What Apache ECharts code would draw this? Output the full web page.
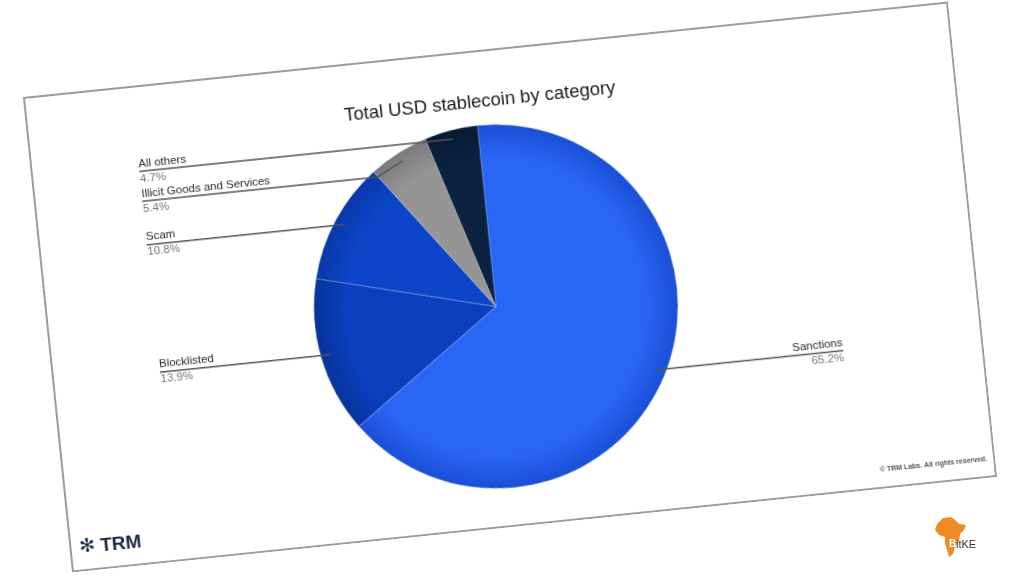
<!DOCTYPE html>
<html>
<head>
<meta charset="utf-8">
<script src="https://cdn.jsdelivr.net/npm/echarts@6/dist/echarts.min.js"></script>
<style>
  html, body { margin: 0; padding: 0; background: #ffffff; width: 1024px; height: 576px; overflow: hidden; }
  #bg { position: absolute; left: 0; top: 0; width: 1024px; height: 576px; }
  #card { position: absolute; left: 44.5px; top: 48px; width: 930px; height: 478px;
          transform: rotate(-5.9deg); transform-origin: 50% 50%; }
</style>
</head>
<body>
<div id="bg"></div>
<div id="card"></div>
<script>
// ---- data ----
const categories = ['Sanctions', 'Blocklisted', 'Scam', 'Illicit Goods and Services', 'All others'];
const shares = [65.2, 13.9, 10.8, 5.4, 4.7];
const chartTitle = 'Total USD stablecoin by category';
const footerText = '© TRM Labs. All rights reserved.';

// ---- styles ----
const baseColors = ['#2a66f4', '#0b3fbd', '#0c45c8', '#959595', '#0b2240'];
const edgeColors = ['#1a4fd6', '#08339c', '#0938a8', '#7a7a7a', '#071a33'];
const CX = 449, CY = 257, R = 182, R_LABEL = 173;
const FONT = 'Liberation Sans, Arial, sans-serif';

function radial(i) {
  return {
    type: 'radial', x: CX, y: CY, r: R, global: true,
    colorStops: [
      { offset: 0, color: baseColors[i] },
      { offset: 0.82, color: baseColors[i] },
      { offset: 1, color: edgeColors[i] }
    ]
  };
}

const pieData = categories.map((c, i) => ({
  name: c, value: shares[i], itemStyle: { color: radial(i) }
}));
const labelData = categories.map((c, i) => ({ name: c, value: shares[i] }));

const card = echarts.init(document.getElementById('card'), null, { renderer: 'canvas' });
const common = {
  type: 'pie',
  left: 98, right: 130, top: 0, bottom: 0,
  center: ['50%', CY],
  startAngle: 90,
  clockwise: true,
  emphasis: { disabled: true },
  silent: true
};
card.setOption({
  backgroundColor: '#ffffff',
  animation: false,
  title: {
    text: chartTitle, left: CX, top: 37, textAlign: 'center',
    textStyle: { fontFamily: FONT, fontSize: 18.5, fontWeight: 'normal', color: '#1a1a1a' }
  },
  graphic: [
    { type: 'rect', z: -10, silent: true, shape: { x: 1, y: 1, width: 928, height: 476 },
      style: { fill: 'rgba(0,0,0,0)', stroke: '#9c9c9c', lineWidth: 2 } },
    { type: 'text', right: 8, top: 456,
      style: { text: footerText, fontFamily: FONT, fontSize: 7, fontWeight: 'bold', fill: '#555' } },
    { type: 'text', left: 10, top: 445,
      style: { text: '✻', fontFamily: 'DejaVu Sans', fontSize: 19, fontWeight: 'bold', fill: '#1b2746' } },
    { type: 'text', left: 31, top: 445,
      style: { text: 'TRM', fontFamily: FONT, fontSize: 19, fontWeight: 'bold', fill: '#1b2746' } }
  ],
  series: [
    Object.assign({}, common, {
      name: 'pie',
      z: 2,
      radius: R,
      data: pieData,
      itemStyle: { borderColor: 'rgba(255,255,255,0.35)', borderWidth: 0.6 },
      label: { show: false },
      labelLine: { show: false }
    }),
    Object.assign({}, common, {
      name: 'labels',
      z: 5,
      radius: R_LABEL,
      data: labelData,
      itemStyle: { color: 'rgba(0,0,0,0)', borderWidth: 0 },
      label: {
        alignTo: 'edge',
        edgeDistance: 10,
        minMargin: 0,
        lineHeight: 15,
        fontFamily: FONT,
        formatter: '{name|{b}}\n{per|{c}%}',
        rich: {
          name: { fontSize: 11.5, color: '#2a2a2a', fontFamily: FONT },
          per: { fontSize: 11.5, color: '#777777', fontFamily: FONT }
        }
      },
      labelLine: { show: true, length: 0, length2: 0, lineStyle: { color: '#555', width: 1.5 } },
      labelLayout: function (params) {
        const isLeft = params.labelRect.x < card.getWidth() / 2;
        const points = params.labelLinePoints;
        points[2][0] = isLeft ? params.labelRect.x : params.labelRect.x + params.labelRect.width;
        return { labelLinePoints: points };
      }
    })
  ]
});

// ---- background (unrotated) with BitKE mark ----
const bg = echarts.init(document.getElementById('bg'), null, { renderer: 'canvas' });
bg.setOption({
  backgroundColor: '#ffffff',
  animation: false,
  graphic: [
    { type: 'polygon', left: 935, top: 517,
      shape: { points: [[4,8],[10,2],[18,1],[22,4],[26,8],[33,9],[31,14],[27,18],[26,25],[22,31],[20,38],[16,41],[14,34],[12,27],[12,21],[6,19],[2,14]] },
      style: { fill: '#f08a24' } },
    { type: 'text', left: 949, top: 539,
      style: { text: 'B', fontFamily: FONT, fontSize: 10, fontWeight: 'bold', fill: '#ffffff' } },
    { type: 'text', left: 956, top: 539,
      style: { text: 'itKE', fontFamily: FONT, fontSize: 11, fill: '#333333' } }
  ]
});
</script>
</body>
</html>
